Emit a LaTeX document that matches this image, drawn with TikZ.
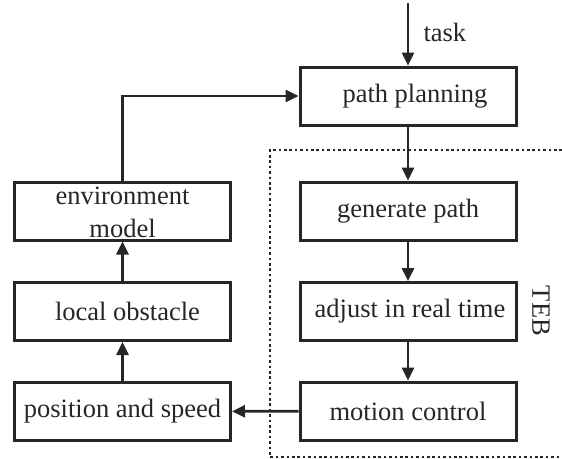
\documentclass[tikz,border=0pt]{standalone}
\usepackage{fontspec}
\setmainfont{Liberation Serif}
\usetikzlibrary{arrows.meta}
\definecolor{ink}{HTML}{262626}
\begin{document}
\begin{tikzpicture}[x=1pt,y=-1pt,
  every node/.style={font=\fontsize{26.5}{33}\selectfont, text=ink},
  blk/.style={draw=ink, line width=3pt, minimum width=216pt, minimum height=58pt, inner sep=0pt},
  flow/.style={draw=ink, line width=2.8pt, -{Triangle[length=13pt,width=12pt]}},
  frame/.style={draw=ink, line width=2.8pt, dash pattern=on 2.6pt off 2.8pt}]
\useasboundingbox (0,0) rectangle (562,458);

% processing chain on the right
\node[blk] (plan)  at (408,96)    {\hspace{14pt}path planning};
\node[blk] (gen)   at (408,211)   {generate path};
\node[blk] (adj)   at (408,311.5) {\hspace{4pt}adjust in real time};
\node[blk] (ctrl)  at (408,411)   {motion control};

% perception chain on the left
\node[blk] (env)   at (122.5,211)   {};
\node at (122.5,196) {environment};
\node at (122.5,228) {model};
\node[blk] (obs)   at (122.5,311.5) {\hspace{10pt}local obstacle};
\node[blk] (pos)   at (122.5,411.5) {position and speed};

% task input
\coordinate (taskin) at (408,3);
\draw[flow] (taskin) -- (plan.north);
\node[anchor=west] at (420,32) {task};

% TEB region
\draw[frame] (562,150) -- (270,150) -- (270,457) -- (562,457);
\node[rotate=-90] at (541,311) {TEB};

% connectors
\draw[flow] (plan) -- (gen);
\draw[flow] (gen) -- (adj);
\draw[flow] (adj) -- (ctrl);
\draw[flow] (ctrl) -- (pos);
\draw[flow] (pos) -- (obs);
\draw[flow] (obs) -- (env);
\draw[flow] (env.north) |- (plan.west);
\end{tikzpicture}
\end{document}
